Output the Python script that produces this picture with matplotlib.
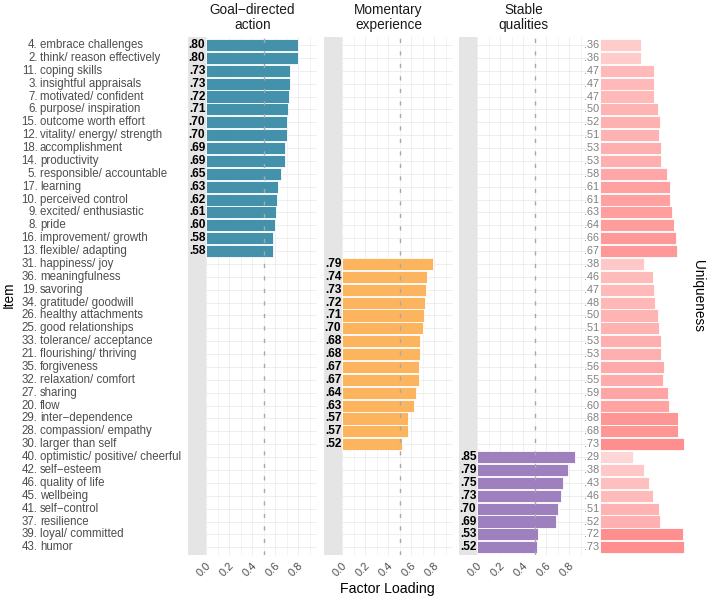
import matplotlib
matplotlib.use("Agg")
import matplotlib.pyplot as plt
import numpy as np
from matplotlib.colors import LinearSegmentedColormap, Normalize
from matplotlib.transforms import blended_transform_factory

plt.rcParams['font.family'] = ['Liberation Sans', 'DejaVu Sans']

# Item data, top to bottom as in the chart
goal_items = ["4. embrace challenges", "2. think/ reason effectively", "11. coping skills",
              "3. insightful appraisals", "7. motivated/ confident", "6. purpose/ inspiration",
              "15. outcome worth effort", "12. vitality/ energy/ strength", "18. accomplishment",
              "14. productivity", "5. responsible/ accountable", "17. learning",
              "10. perceived control", "9. excited/ enthusiastic", "8. pride",
              "16. improvement/ growth", "13. flexible/ adapting"]
goal_loadings = [.80, .80, .73, .73, .72, .71, .70, .70, .69, .69, .65, .63, .62, .61, .60, .58, .58]
goal_uniq = [.36, .36, .47, .47, .47, .50, .52, .51, .53, .53, .58, .61, .61, .63, .64, .66, .67]

moment_items = ["31. happiness/ joy", "36. meaningfulness", "19. savoring",
                "34. gratitude/ goodwill", "26. healthy attachments", "25. good relationships",
                "33. tolerance/ acceptance", "21. flourishing/ thriving", "35. forgiveness",
                "32. relaxation/ comfort", "27. sharing", "20. flow",
                "29. inter\u2212dependence", "28. compassion/ empathy", "30. larger than self"]
moment_loadings = [.79, .74, .73, .72, .71, .70, .68, .68, .67, .67, .64, .63, .57, .57, .52]
moment_uniq = [.38, .46, .47, .48, .50, .51, .53, .53, .56, .55, .59, .60, .68, .68, .73]

stable_items = ["40. optimistic/ positive/ cheerful", "42. self\u2212esteem", "46. quality of life",
                "45. wellbeing", "41. self\u2212control", "37. resilience",
                "39. loyal/ committed", "43. humor"]
stable_loadings = [.85, .79, .75, .73, .70, .69, .53, .52]
stable_uniq = [.29, .38, .43, .46, .51, .52, .72, .73]

factor_titles = ["Goal\u2212directed\naction", "Momentary\nexperience", "Stable\nqualities"]
factor_colors = ["#4391AB", "#FDB45E", "#9E80BF"]
x_ticks = [0.0, 0.2, 0.4, 0.6, 0.8]

W, H = 708, 601
fig = plt.figure(figsize=(W / 100, H / 100), dpi=100)


def px_axes(x0, y0, x1, y1):
    return fig.add_axes([x0 / W, 1 - y1 / H, (x1 - x0) / W, (y1 - y0) / H])


items = goal_items + moment_items + stable_items
uniq = goal_uniq + moment_uniq + stable_uniq
n = len(items)
ypos = np.arange(n)
top_px, bot_px = 37.3, 555.0

groups = [(goal_loadings, 0), (moment_loadings, len(goal_items)),
          (stable_loadings, len(goal_items) + len(moment_items))]
panel_left = [188, 324, 459]
panel_w = 129
xmin, xmax = -0.157, 0.965

for k, (loads, start) in enumerate(groups):
    ax = px_axes(panel_left[k], top_px, panel_left[k] + panel_w, bot_px)
    ax.set_xlim(xmin, xmax)
    ax.set_ylim(n - 0.4, -0.6)
    # grid
    for y in ypos:
        ax.axhline(y, color="#EBEBEB", lw=0.6, zorder=0)
    for gx in np.arange(0, 1.0, 0.1):
        ax.axvline(gx, color="#EBEBEB", lw=0.6 if round(gx * 10) % 2 == 0 else 0.4, zorder=0)
    ax.axvspan(xmin, 0, color="#E5E5E5", lw=0, zorder=1)
    yy = ypos[start:start + len(loads)]
    ax.barh(yy, loads, height=0.94, color=factor_colors[k], edgecolor="white", lw=0.6, zorder=2)
    for y, v in zip(yy, loads):
        ax.text(-0.006, y, f"{v:.2f}"[1:], ha="right", va="center", fontsize=8.6,
                fontweight="bold", color="black", zorder=4)
    ax.axvline(0.5, color="#A8A8A8", lw=1.0, ls=(0, (3, 6)), zorder=3)
    ax.set_yticks([])
    ax.set_xticks(x_ticks)
    ax.set_xticklabels([f"{t:.1f}" for t in x_ticks], rotation=45, ha="right", va="top",
                       rotation_mode="anchor", fontsize=8, color="#4D4D4D")
    ax.tick_params(axis="x", length=0, pad=4)
    for s in ax.spines.values():
        s.set_visible(False)
    fig.text((panel_left[k] + panel_w / 2) / W, 1 - 17.5 / H, factor_titles[k], ha="center",
             va="center", fontsize=9.8, linespacing=1.12, color="#1A1A1A")

# uniqueness panel
cmap = LinearSegmentedColormap.from_list("uniq", ["#FFD6D6", "#FF8E8E"])
norm = Normalize(vmin=min(uniq), vmax=max(uniq))
axu = px_axes(588, top_px, 700, bot_px)
axu.set_xlim(-12 / 115, 100 / 115)
axu.set_ylim(n - 0.4, -0.6)
axu.barh(ypos, uniq, height=0.94, color=cmap(norm(np.array(uniq))), edgecolor="white", lw=0.6)
for y, v in zip(ypos, uniq):
    axu.text(-0.008, y, f"{v:.2f}"[1:], ha="right", va="center", fontsize=7.8, color="#7F7F7F")
axu.axis("off")

# item labels: number right-aligned, text left-aligned
ax0 = fig.axes[0]
tr = blended_transform_factory(fig.transFigure, ax0.transData)
for y, lab in zip(ypos, items):
    num, txt = lab.split(" ", 1)
    ax0.text(37.6 / W, y, num, transform=tr, ha="right", va="center", fontsize=8.3,
             color="#4D4D4D", clip_on=False)
    ax0.text(40.0 / W, y, txt, transform=tr, ha="left", va="center", fontsize=8.3,
             color="#4D4D4D", clip_on=False)

fig.text(9 / W, 1 - 295 / H, "Item", rotation=90, ha="center", va="center", fontsize=9.8)
fig.text(698 / W, 1 - 296 / H, "Uniqueness", rotation=270, ha="center", va="center", fontsize=9.8)
fig.text(387 / W, 1 - 589 / H, "Factor Loading", ha="center", va="center", fontsize=10.2)

fig.savefig("out.png", dpi=100)
